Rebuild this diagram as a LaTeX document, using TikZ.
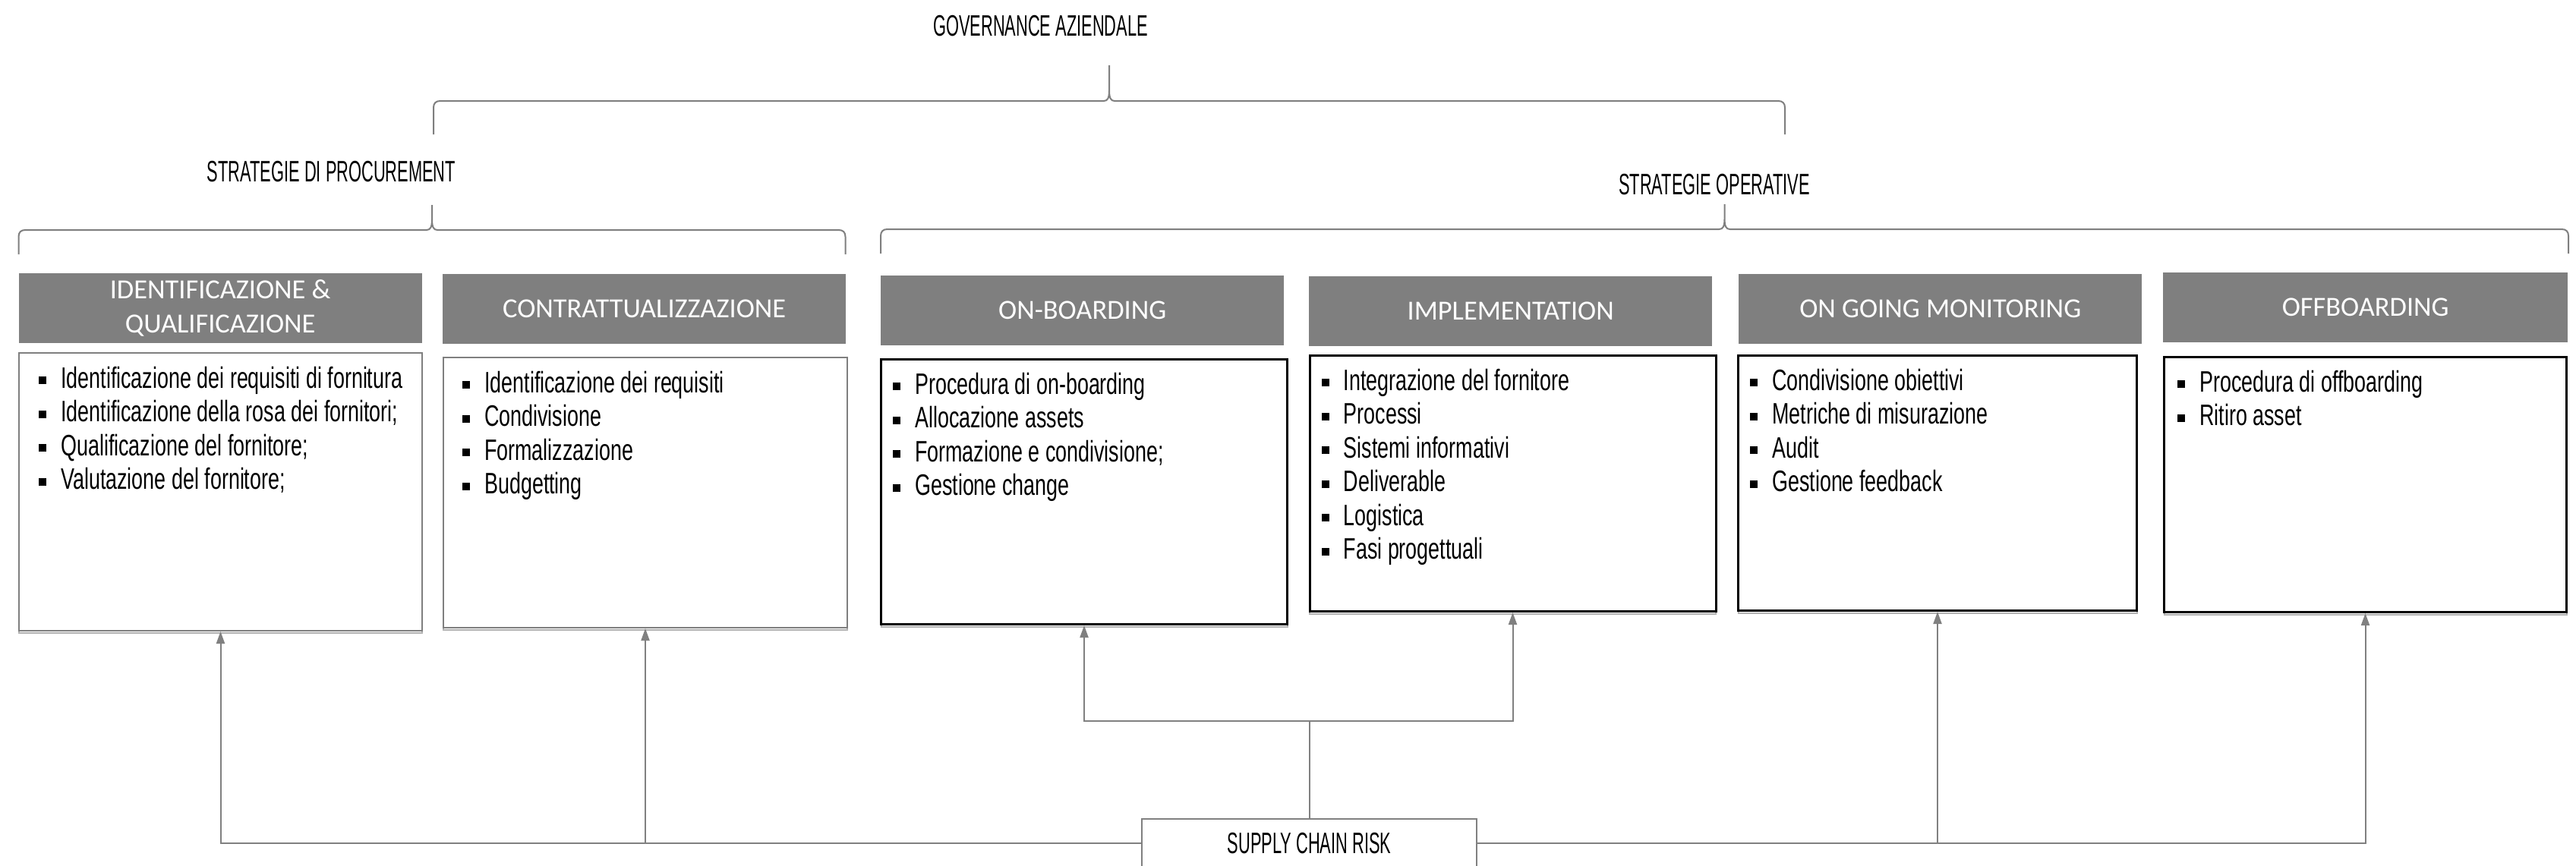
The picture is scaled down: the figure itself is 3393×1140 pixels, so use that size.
\documentclass[tikz,border=0pt]{standalone}
\usepackage{fontspec}
\setmainfont{Liberation Sans}
\newfontfamily\hdrfont{Carlito}
\newfontfamily\labfont[FakeStretch=0.56]{Liberation Sans}
\newfontfamily\bulfont[FakeStretch=0.69]{Liberation Sans}
\usetikzlibrary{arrows.meta,shadows}

\definecolor{hdrgray}{HTML}{7F7F7F}
\definecolor{lngray}{HTML}{808080}

% square bullet followed by the item text
\newcommand\itm{\makebox[29pt][l]{\rule[5pt]{10pt}{10pt}}}
\newcommand\firstline{\rule{0pt}{32pt}}

% curly bracket: x-left, x-right, x-tip, y-bar, y-ends, y-tip
\newcommand\hbrace[6]{%
  \draw[brace] (#1,#5) -- (#1,{#4+9})
    .. controls (#1,{#4+3}) and ({#1+3},#4) .. ({#1+9},#4)
    -- ({#3-7},#4)
    .. controls ({#3-2},#4) and (#3,{#4-4}) .. (#3,{#4-14})
    -- (#3,#6) -- (#3,{#4-14})
    .. controls (#3,{#4-4}) and ({#3+2},#4) .. ({#3+7},#4)
    -- ({#2-9},#4)
    .. controls ({#2-3},#4) and (#2,{#4+3}) .. (#2,{#4+9})
    -- (#2,#5);}

\begin{document}
\begin{tikzpicture}[x=1pt,y=-1pt,
  brace/.style={draw=hdrgray, line width=2pt},
  label/.style={font=\labfont\fontsize{39}{44}\selectfont, inner sep=0pt, anchor=base},
  hdr/.style={fill=hdrgray, text=white, font=\hdrfont\fontsize{36.4}{45}\selectfont,
    align=center, inner sep=0pt, anchor=north west, minimum width=531pt, minimum height=92pt},
  bodybox/.style={fill=white, inner sep=0pt, anchor=north west,
    general shadow={draw=black!30, fill=none, line width=2pt, shadow yshift=-3pt}},
  graybox/.style={bodybox, draw=hdrgray, line width=2pt},
  blackbox/.style={bodybox, draw=black, line width=3pt},
  lst/.style={font=\bulfont\fontsize{39}{44.5}\selectfont, inner sep=0pt,
    anchor=north west, align=left},
  riskbox/.style={draw=lngray, line width=2pt, fill=white, inner sep=0pt,
    minimum width=441pt, minimum height=64pt, font=\labfont\fontsize{39}{44}\selectfont},
  conn/.style={draw=lngray, line width=2pt},
  arr/.style={-{Triangle[length=16pt,width=11pt]}, color=lngray}
]
\path[use as bounding box, fill=white] (0,0) rectangle (3393,1140);

% top labels
\node[label] (gov) at (1370.5,48) {GOVERNANCE AZIENDALE};
\node[label] (proc) at (436.5,239) {STRATEGIE DI PROCUREMENT};
\node[label] (oper) at (2258,256) {STRATEGIE OPERATIVE};

% brackets
\hbrace{571}{2351}{1461}{133}{177}{86}
\hbrace{24.5}{1113.5}{569}{303}{335}{270}
\hbrace{1160}{3383}{2271.5}{302}{334}{269}

% phase headers
\node[hdr] (h1) at (24.5,360) {IDENTIFICAZIONE \&\\QUALIFICAZIONE};
\node[hdr] (h2) at (583,361) {CONTRATTUALIZZAZIONE};
\node[hdr] (h3) at (1160,363) {ON-BOARDING};
\node[hdr] (h4) at (1724,364) {IMPLEMENTATION};
\node[hdr] (h5) at (2290,361) {ON GOING MONITORING};
\node[hdr, minimum width=533pt] (h6) at (2849,359) {OFFBOARDING};

% activity boxes
\node[graybox, minimum width=531pt, minimum height=366pt] (b1) at (24,464) {};
\node[graybox, minimum width=532pt, minimum height=356pt] (b2) at (583,470) {};
\node[blackbox, minimum width=535pt, minimum height=349pt] (b3) at (1159,472) {};
\node[blackbox, minimum width=535pt, minimum height=337pt] (b4) at (1723.5,467) {};
\node[blackbox, minimum width=525pt, minimum height=336pt] (b5) at (2288,467) {};
\node[blackbox, minimum width=530pt, minimum height=336pt] (b6) at (2849,469) {};

% activity lists
\node[lst] (l1) at ([shift={(27,15)}]b1.north west) {%
  \firstline\itm Identificazione dei requisiti di fornitura\\
  \itm Identificazione della rosa dei fornitori;\\
  \itm Qualificazione del fornitore;\\
  \itm Valutazione del fornitore;};
\node[lst] (l2) at ([shift={(26,15)}]b2.north west) {%
  \firstline\itm Identificazione dei requisiti\\
  \itm Condivisione\\
  \itm Formalizzazione\\
  \itm Budgetting};
\node[lst] (l3) at ([shift={(17,15)}]b3.north west) {%
  \firstline\itm Procedura di on-boarding\\
  \itm Allocazione assets\\
  \itm Formazione e condivisione;\\
  \itm Gestione change};
\node[lst] (l4) at ([shift={(17,15)}]b4.north west) {%
  \firstline\itm Integrazione del fornitore\\
  \itm Processi\\
  \itm Sistemi informativi\\
  \itm Deliverable\\
  \itm Logistica\\
  \itm Fasi progettuali};
\node[lst] (l5) at ([shift={(17,15)}]b5.north west) {%
  \firstline\itm Condivisione obiettivi\\
  \itm Metriche di misurazione\\
  \itm Audit\\
  \itm Gestione feedback};
\node[lst] (l6) at ([shift={(19,15)}]b6.north west) {%
  \firstline\itm Procedura di offboarding\\
  \itm Ritiro asset};

% risk source
\node[riskbox] (scr) at (1724.5,1111) {SUPPLY CHAIN RISK};

% connectors from the risk source to every phase
\coordinate (lvl) at (0,950);
\coordinate (jn) at (scr.north |- lvl);
\draw[conn] (scr.north) -- (jn);
\draw[conn, arr] (jn) -| (b3.south);
\draw[conn, arr] (jn) -| (b4.south);
\draw[conn, arr] (scr.west) -| (b1.south);
\draw[conn, arr] (scr.west) -| (b2.south);
\draw[conn, arr] (scr.east) -| (b6.south);
\draw[conn, arr] (scr.east) -| (b5.south);
\end{tikzpicture}
\end{document}
